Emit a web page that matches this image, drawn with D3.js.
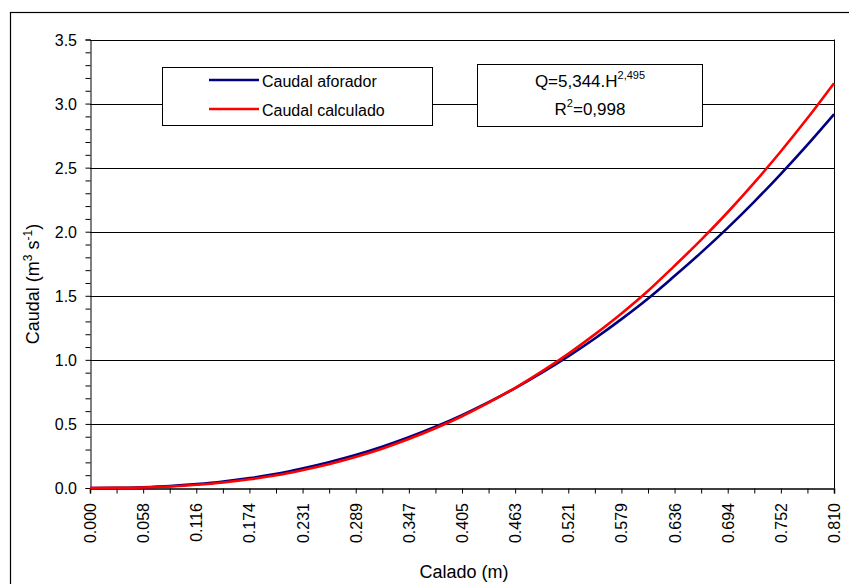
<!DOCTYPE html>
<html>
<head>
<meta charset="utf-8">
<script src="https://cdn.jsdelivr.net/npm/d3@7"></script>
<style>
body { margin: 0; background: #fff; }
svg text { font-family: "Liberation Sans", Arial, sans-serif; fill: #000; }
</style>
</head>
<body>
<div id="chart"></div>
<script>
// Caudal vs calado
///

const calado = [0.000, 0.029, 0.058, 0.087, 0.116, 0.145, 0.174, 0.203, 0.231, 0.260, 0.289, 0.318, 0.347, 0.376,
	0.405, 0.434, 0.463, 0.492, 0.521, 0.550, 0.579, 0.608, 0.636, 0.665, 0.694, 0.723, 0.752, 0.781, 0.810];
const caudalAforador = [0.000, 0.001, 0.006, 0.015, 0.030, 0.050, 0.077, 0.111, 0.152, 0.201, 0.257, 0.322, 0.396, 0.478,
	0.569, 0.670, 0.780, 0.900, 1.029, 1.169, 1.320, 1.481, 1.652, 1.835, 2.028, 2.233, 2.450, 2.678, 2.917];
const caudalCalculado = [0.000, 0.001, 0.004, 0.012, 0.025, 0.043, 0.068, 0.099, 0.139, 0.186, 0.242, 0.307, 0.382, 0.466,
	0.560, 0.666, 0.782, 0.910, 1.049, 1.201, 1.364, 1.541, 1.731, 1.934, 2.150, 2.381, 2.626, 2.885, 3.159];
const xTickLabels = ['0.000', '0.058', '0.116', '0.174', '0.231', '0.289', '0.347', '0.405',
	'0.463', '0.521', '0.579', '0.636', '0.694', '0.752', '0.810'];
const yTicks = [0, 0.5, 1, 1.5, 2, 2.5, 3, 3.5];
const series = [
	{ name: 'Caudal aforador', values: caudalAforador, color: '#000080' },
	{ name: 'Caudal calculado', values: caudalCalculado, color: '#ff0000' }
];

const W = 849, H = 584;
const m = { left: 90, top: 39.5, right: 834, bottom: 488 };

let svg = d3.select('#chart').append('svg')
	.attr('width', W).attr('height', H);

// marco exterior
svg.append('rect')
	.attr('x', 10.5).attr('y', 12.5).attr('width', 845).attr('height', 590)
	.attr('fill', 'none').attr('stroke', '#000').attr('stroke-width', 1.2);

const x = d3.scaleLinear().domain([0, 0.81]).range([m.left, m.right]);
const y = d3.scaleLinear().domain([0, 3.5]).range([m.bottom, m.top]);

// rejilla
svg.append('g').selectAll('line')
	.data(yTicks.slice(1))
	.enter().append('line')
	.attr('x1', m.left).attr('x2', m.right)
	.attr('y1', d => Math.round(y(d)) + 0.5).attr('y2', d => Math.round(y(d)) + 0.5)
	.attr('stroke', '#000').attr('stroke-width', 1);

// borde derecho
svg.append('line')
	.attr('x1', m.right + 0.5).attr('x2', m.right + 0.5)
	.attr('y1', m.top).attr('y2', m.bottom)
	.attr('stroke', '#000');

// eje y
let yAxis = svg.append('g').attr('transform', 'translate(' + (m.left + 0.5) + ',0)')
	.call(d3.axisLeft(y).tickValues(d3.range(0, 36).map(i => i / 10)).tickSize(5).tickFormat(''));
yAxis.select('.domain').attr('stroke', '#000');
yAxis.selectAll('.tick line').attr('stroke', '#000');
svg.append('g').selectAll('text')
	.data(yTicks)
	.enter().append('text')
	.attr('x', 77).attr('y', d => y(d) + 6)
	.attr('text-anchor', 'end').style('font-size', '16px')
	.text(d => d.toFixed(1));

// eje x
let xAxis = svg.append('g').attr('transform', 'translate(0,' + (m.bottom + 0.5) + ')')
	.call(d3.axisBottom(x).tickValues(calado.map((d, i) => i * 0.81 / 28)).tickSize(5).tickFormat(''));
xAxis.select('.domain').attr('stroke', '#000').attr('stroke-width', 1.5);
xAxis.selectAll('.tick line').attr('stroke', '#000');
svg.append('g').selectAll('text')
	.data(xTickLabels)
	.enter().append('text')
	.attr('transform', (d, i) => 'translate(' + (x(i * 0.81 / 14) + 6) + ',503) rotate(-90)')
	.attr('text-anchor', 'end').style('font-size', '16px')
	.text(d => d);

// titulos
svg.append('text')
	.attr('x', 464).attr('y', 578).attr('text-anchor', 'middle')
	.style('font-size', '18px').text('Calado (m)');
let yt = svg.append('text')
	.attr('transform', 'translate(39,284) rotate(-90)').attr('text-anchor', 'middle')
	.style('font-size', '18px');
yt.append('tspan').text('Caudal (m');
yt.append('tspan').attr('dy', -7).style('font-size', '12px').text('3');
yt.append('tspan').attr('dy', 7).text(' s');
yt.append('tspan').attr('dy', -7).style('font-size', '12px').text('-1');
yt.append('tspan').attr('dy', 7).text(')');

// curvas
const line = d3.line()
	.x((d, i) => x(calado[i]))
	.y(d => y(d))
	.curve(d3.curveMonotoneX);

svg.append('g').selectAll('path')
	.data(series)
	.enter().append('path')
	.attr('d', d => line(d.values))
	.attr('fill', 'none')
	.attr('stroke', d => d.color)
	.attr('stroke-width', 2.6);

// leyenda
let leg = svg.append('g');
leg.append('rect')
	.attr('x', 162.5).attr('y', 67.5).attr('width', 270).attr('height', 58)
	.attr('fill', '#fff').attr('stroke', '#000');
let items = leg.selectAll('g.item')
	.data(series)
	.enter().append('g')
	.attr('transform', (d, i) => 'translate(0,' + (80 + i * 29) + ')');
items.append('line')
	.attr('x1', 209).attr('x2', 259)
	.attr('stroke', d => d.color).attr('stroke-width', 2.6);
items.append('text')
	.attr('x', 262).attr('y', 7)
	.style('font-size', '16px')
	.text(d => d.name);

// ecuacion
let eq = svg.append('g');
eq.append('rect')
	.attr('x', 477.5).attr('y', 64.5).attr('width', 225).attr('height', 62)
	.attr('fill', '#fff').attr('stroke', '#000');
let t1 = eq.append('text').attr('x', 590).attr('y', 87).attr('text-anchor', 'middle').style('font-size', '17px');
t1.append('tspan').text('Q=5,344.H');
t1.append('tspan').attr('dy', -8).style('font-size', '11px').text('2,495');
let t2 = eq.append('text').attr('x', 590).attr('y', 115).attr('text-anchor', 'middle').style('font-size', '17px');
t2.append('tspan').text('R');
t2.append('tspan').attr('dy', -8).style('font-size', '11px').text('2');
t2.append('tspan').attr('dy', 8).text('=0,998');
</script>
</body>
</html>
